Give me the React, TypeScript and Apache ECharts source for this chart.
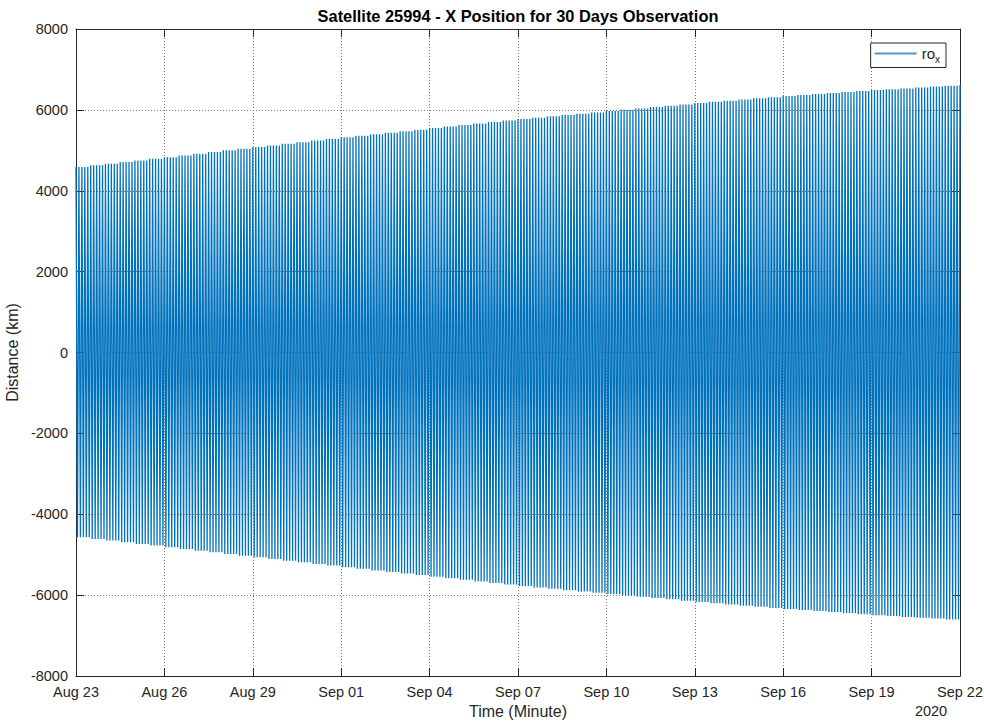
import React, { useEffect, useRef } from 'react';
import * as echarts from 'echarts';

// ---- data ----
const START_UTC = Date.UTC(2020, 7, 23); // Aug 23 2020
const DAY_MIN = 1440;
const TOTAL_DAYS = 30;
const TICK_DAYS = 3;
const yTicks = [-8000, -6000, -4000, -2000, 0, 2000, 4000, 6000, 8000];
const STRIPES_PER_HALF_DAY = 5; // visible oscillations per half day (counted)
// Peak (upper) and trough (lower) envelope, one value every half day, Aug 23 00:00 .. Sep 22 00:00
const upperPeaks = [
  4590, 4630, 4670, 4710, 4750, 4790, 4830, 4872, 4915, 4958,
  5000, 5040, 5080, 5120, 5160, 5200, 5240, 5280, 5320, 5358,
  5395, 5432, 5470, 5510, 5550, 5588, 5625, 5662, 5700, 5738,
  5775, 5808, 5840, 5872, 5905, 5938, 5970, 6002, 6035, 6068,
  6100, 6135, 6170, 6198, 6225, 6255, 6285, 6312, 6340, 6365,
  6390, 6415, 6440, 6465, 6490, 6510, 6530, 6552, 6575, 6595, 6615,
];
const lowerPeaks = [
  -4570, -4610, -4650, -4692, -4735, -4775, -4815, -4858, -4900, -4942,
  -4985, -5025, -5065, -5108, -5150, -5190, -5230, -5270, -5310, -5350,
  -5390, -5428, -5465, -5505, -5545, -5582, -5620, -5660, -5700, -5738,
  -5775, -5810, -5845, -5878, -5910, -5942, -5975, -6008, -6040, -6072,
  -6105, -6138, -6170, -6200, -6230, -6260, -6290, -6318, -6345, -6370,
  -6395, -6420, -6445, -6470, -6495, -6518, -6540, -6560, -6580, -6600, -6620,
];
const MONTHS = ['Jan', 'Feb', 'Mar', 'Apr', 'May', 'Jun', 'Jul', 'Aug', 'Sep', 'Oct', 'Nov', 'Dec'];

const FONT = 'Liberation Sans, Arial, Helvetica, sans-serif';
const TXT = '#262626';

function buildSeries(): [number, number][] {
  const pts: [number, number][] = [];
  const halfSteps = STRIPES_PER_HALF_DAY * 2;
  const segMin = DAY_MIN / 2;
  const nSeg = upperPeaks.length - 1;
  for (let s = 0; s < nSeg; s++) {
    for (let k = 0; k < halfSteps; k++) {
      const t = (s + k / halfSteps) * segMin;
      pts.push([t, k % 2 === 0 ? upperPeaks[s] : lowerPeaks[s]]);
    }
  }
  pts.push([nSeg * segMin, upperPeaks[nSeg]]);
  return pts;
}

function fmtDate(v: number): string {
  const dt = new Date(START_UTC + v * 60000);
  const d = dt.getUTCDate();
  return `${MONTHS[dt.getUTCMonth()]} ${d < 10 ? '0' + d : d}`;
}

export default function App() {
  const ref = useRef<HTMLDivElement>(null);
  useEffect(() => {
    if (!ref.current) return;
    const chart = echarts.init(ref.current, undefined, { renderer: 'svg' });
    const gridLine = { show: true, lineStyle: { color: '#7a7a7a', type: [1, 2] as any, width: 1 } };
    const axisLine = { show: true, onZero: false, lineStyle: { color: TXT, width: 1 } };
    const tick = { show: true, inside: true, length: 8, lineStyle: { color: TXT } };
    const xCommon = {
      type: 'value' as const,
      min: 0,
      max: TOTAL_DAYS * DAY_MIN,
      interval: TICK_DAYS * DAY_MIN,
    };
    const yCommon = {
      type: 'value' as const,
      min: yTicks[0],
      max: yTicks[yTicks.length - 1],
      interval: yTicks[1] - yTicks[0],
    };
    chart.setOption({
      animation: false,
      backgroundColor: '#ffffff',
      grid: { left: 76, right: 24, top: 29, bottom: 49, containLabel: false, outerBoundsMode: 'none' },
      xAxis: [
        {
          ...xCommon,
          position: 'bottom',
          name: 'Time (Minute)',
          nameLocation: 'middle',
          nameGap: 27,
          nameTextStyle: { fontFamily: FONT, fontSize: 16, color: TXT },
          axisLine,
          axisTick: tick,
          splitLine: gridLine,
          axisLabel: { formatter: fmtDate, fontFamily: FONT, fontSize: 14.5, color: TXT, margin: 8 },
        },
        {
          ...xCommon,
          position: 'top',
          axisLine,
          axisTick: tick,
          splitLine: { show: false },
          axisLabel: { show: false },
        },
      ],
      yAxis: [
        {
          ...yCommon,
          position: 'left',
          name: 'Distance (km)',
          nameLocation: 'middle',
          nameGap: 51,
          nameTextStyle: { fontFamily: FONT, fontSize: 16, color: TXT },
          axisLine,
          axisTick: tick,
          splitLine: gridLine,
          axisLabel: { formatter: (v: number) => String(v), fontFamily: FONT, fontSize: 14.5, color: TXT, margin: 8 },
        },
        {
          ...yCommon,
          position: 'right',
          axisLine,
          axisTick: tick,
          splitLine: { show: false },
          axisLabel: { show: false },
        },
      ],
      legend: {
        right: 38,
        top: 43,
        padding: [3, 6, 3, 4],
        itemGap: 2,
        backgroundColor: '#ffffff',
        borderColor: TXT,
        borderWidth: 1,
        icon: 'rect',
        itemWidth: 42,
        itemHeight: 2,
        data: ['ro_x'],
        formatter: () => '{a|ro}{b|x}',
        textStyle: {
          fontFamily: FONT,
          color: TXT,
          rich: {
            a: { fontFamily: FONT, fontSize: 15, color: TXT },
            b: { fontFamily: FONT, fontSize: 10, color: TXT, padding: [12, 0, 0, 0] },
          },
        },
      },
      graphic: [
        {
          type: 'text',
          x: 518,
          y: 16,
          style: {
            text: 'Satellite 25994 - X Position for 30 Days Observation',
            font: `bold 16.4px ${FONT}`,
            fill: '#000000',
            textAlign: 'center',
            textVerticalAlign: 'middle',
          },
        },
        {
          type: 'text',
          x: 931,
          y: 711,
          style: {
            text: '2020',
            font: `14.5px ${FONT}`,
            fill: TXT,
            textAlign: 'center',
            textVerticalAlign: 'middle',
          },
        },
      ],
      series: [
        {
          name: 'ro_x',
          type: 'line',
          xAxisIndex: 0,
          yAxisIndex: 0,
          data: buildSeries(),
          showSymbol: false,
          symbol: 'none',
          lineStyle: { color: '#0072BD', width: 1.3 },
          itemStyle: { color: '#4a98d4' },
          silent: true,
          z: 1,
        },
      ],
    });
    return () => chart.dispose();
  }, []);
  return (
    <div
      ref={ref}
      style={{ position: 'fixed', left: 0, top: 0, width: 984, height: 725, background: '#fff' }}
    />
  );
}
